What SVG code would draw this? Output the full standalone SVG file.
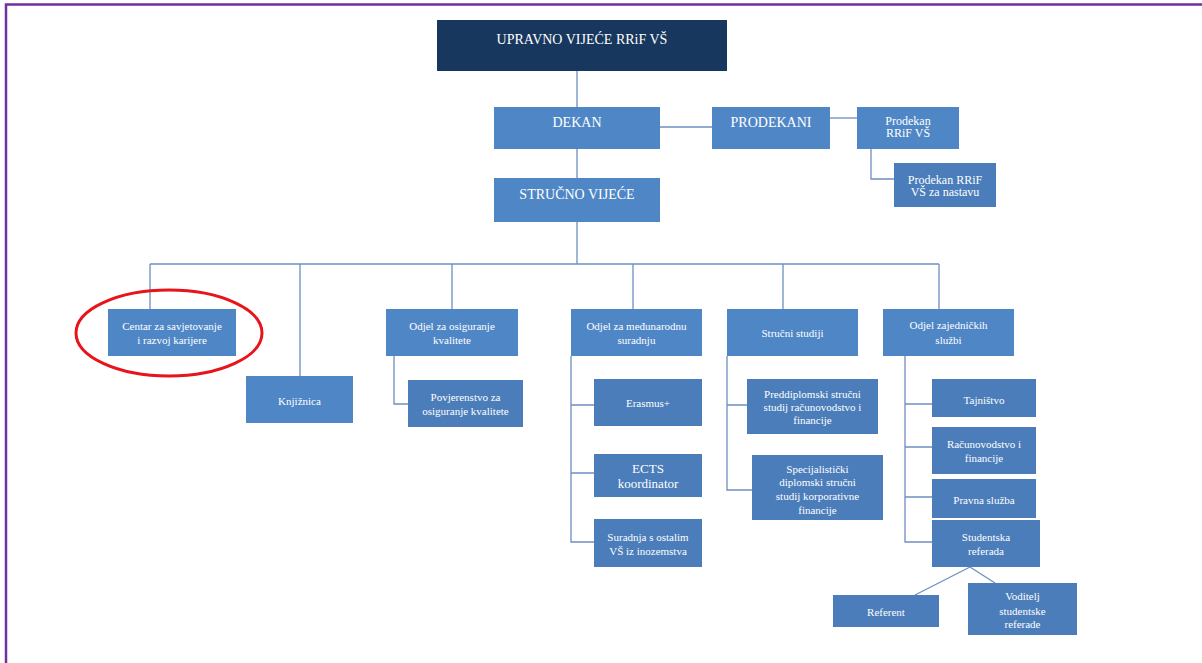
<svg xmlns="http://www.w3.org/2000/svg" width="1202" height="663" viewBox="0 0 1202 663">
<style>
.b{fill:#4f86c6}
.s{fill:#4a7dba}
.n{fill:#17375e}
text{font-family:'Liberation Serif',serif;fill:#ffffff;text-anchor:middle;font-size:11px}
.m{font-size:14px}
.p{font-size:12px}
.c{fill:none;stroke:#6f8fc0;stroke-width:1.3}
</style>
<rect x="0" y="0" width="1202" height="663" fill="#ffffff"/>
<path d="M6 663 V4.5 H1202" fill="none" stroke="#7030a0" stroke-width="2.5"/>
<g id="connectors" class="c">
<path d="M577 71 V107"/>
<path d="M577 149 V178"/>
<path d="M660 127 H712"/>
<path d="M830 118 H857"/>
<path d="M871 149 V179 H894"/>
<path d="M577 222 V264"/>
<path d="M150 264 H939"/>
<path d="M150 264 V309"/>
<path d="M300 264 V376"/>
<path d="M452 264 V309"/>
<path d="M633 264 V309"/>
<path d="M783 264 V309"/>
<path d="M939 264 V309"/>
<path d="M394 356 V404 H408"/>
<path d="M571 356 V542 H594 M571 405 H594 M571 473 H594"/>
<path d="M727 356 V490 H752 M727 405 H747"/>
<path d="M905 356 V542 H932 M905 404 H932 M905 447 H932 M905 497 H932"/>
<path d="M970 567 L915 595 M970 567 L995 583"/>
</g>
<g id="upravno" font-family="Liberation Serif, serif"><rect class="n" x="437" y="20" width="290" height="51"/><text class="m" x="582" y="44">UPRAVNO VIJEĆE RRiF VŠ</text></g>
<g id="dekan"><rect class="b" x="494" y="107" width="166" height="42"/><text class="m" x="577" y="127">DEKAN</text></g>
<g id="prodekani"><rect class="b" x="712" y="107" width="118" height="42"/><text class="m" x="771" y="127">PRODEKANI</text></g>
<g id="prodekan1"><rect class="b" x="857" y="107" width="102" height="42"/><text class="p" x="908" y="125">Prodekan</text><text class="p" x="908" y="137">RRiF VŠ</text></g>
<g id="prodekan2"><rect class="s" x="894" y="163" width="102" height="44"/><text class="p" x="945" y="184">Prodekan RRiF</text><text class="p" x="945" y="196">VŠ za nastavu</text></g>
<g id="strucno"><rect class="b" x="494" y="178" width="166" height="44"/><text class="m" x="577" y="199">STRUČNO VIJEĆE</text></g>
<g id="centar"><rect class="b" x="108" y="309" width="128" height="47"/><text x="172" y="330">Centar za savjetovanje</text><text x="172" y="344">i razvoj karijere</text></g>
<ellipse cx="169" cy="333" rx="93" ry="43" fill="none" stroke="#e8141b" stroke-width="3"/>
<g id="knjiznica"><rect class="b" x="246" y="376" width="107" height="47"/><text x="299.5" y="405">Knjižnica</text></g>
<g id="osig"><rect class="b" x="386" y="309" width="132" height="47"/><text x="452" y="330">Odjel za osiguranje</text><text x="452" y="344">kvalitete</text></g>
<g id="povjerenstvo"><rect class="s" x="408" y="380" width="115" height="47"/><text x="465.5" y="401">Povjerenstvo za</text><text x="465.5" y="415">osiguranje kvalitete</text></g>
<g id="medjunarodna"><rect class="b" x="571" y="309" width="131" height="47"/><text x="636.5" y="330">Odjel za međunarodnu</text><text x="636.5" y="344">suradnju</text></g>
<g id="erasmus"><rect class="s" x="594" y="379" width="108" height="47"/><text x="648" y="407">Erasmus+</text></g>
<g id="ects"><rect class="s" x="594" y="454" width="108" height="43"/><text x="648" y="473" style="font-size:13px">ECTS</text><text x="648" y="488" style="font-size:13px">koordinator</text></g>
<g id="suradnja"><rect class="s" x="594" y="519" width="108" height="48"/><text x="648" y="541">Suradnja s ostalim</text><text x="648" y="555">VŠ iz inozemstva</text></g>
<g id="strucni"><rect class="b" x="727" y="309" width="131" height="47"/><text x="792.5" y="337">Stručni studiji</text></g>
<g id="preddiplomski"><rect class="s" x="747" y="379" width="131" height="55"/><text x="812.5" y="397.5">Preddiplomski stručni</text><text x="812.5" y="411">studij računovodstvo i</text><text x="812.5" y="424">financije</text></g>
<g id="specijalisticki"><rect class="s" x="752" y="455" width="131" height="65"/><text x="817.5" y="472.5">Specijalistički</text><text x="817.5" y="486">diplomski  stručni</text><text x="817.5" y="500">studij korporativne</text><text x="817.5" y="513.5">financije</text></g>
<g id="zajednicke"><rect class="b" x="883" y="309" width="131" height="47"/><text x="948.5" y="329">Odjel zajedničkih</text><text x="948.5" y="343.5">službi</text></g>
<g id="tajnistvo"><rect class="s" x="932" y="379" width="104" height="38"/><text x="984" y="404">Tajništvo</text></g>
<g id="racunovodstvo"><rect class="s" x="932" y="427" width="104" height="47"/><text x="984" y="448">Računovodstvo i</text><text x="984" y="462">financije</text></g>
<g id="pravna"><rect class="s" x="932" y="479" width="104" height="39"/><text x="984" y="503.5">Pravna služba</text></g>
<g id="referada"><rect class="s" x="932" y="520" width="108" height="47"/><text x="986" y="541">Studentska</text><text x="986" y="555">referada</text></g>
<g id="referent"><rect class="s" x="833" y="595" width="106" height="32"/><text x="886" y="616">Referent</text></g>
<g id="voditelj"><rect class="s" x="968" y="583" width="109" height="52"/><text x="1022.5" y="600">Voditelj</text><text x="1022.5" y="614.5">studentske</text><text x="1022.5" y="628">referade</text></g>
</svg>
